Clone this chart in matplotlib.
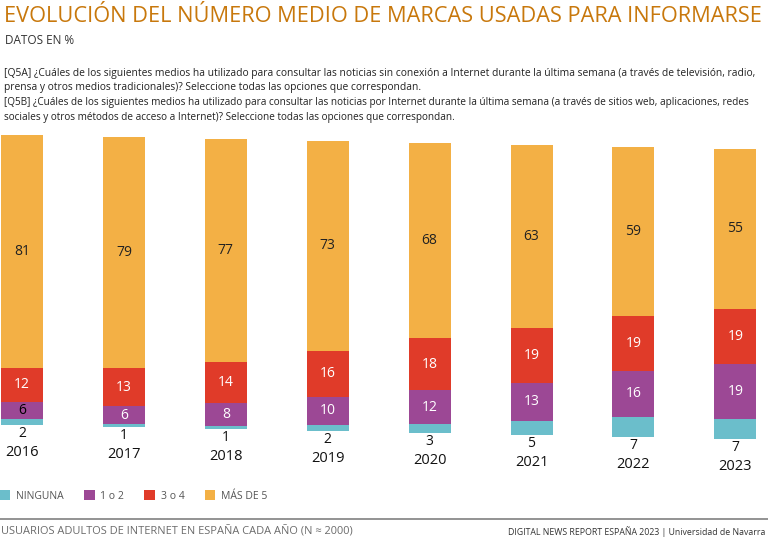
import matplotlib
matplotlib.use('Agg')
import matplotlib.pyplot as plt
from matplotlib import font_manager
import numpy as np

# %% datos
anios = ['2016', '2017', '2018', '2019', '2020', '2021', '2022', '2023']
ninguna = [2, 1, 1, 2, 3, 5, 7, 7]
uno_dos = [6, 6, 8, 10, 12, 13, 16, 19]
tres_cuatro = [12, 13, 14, 16, 18, 19, 19, 19]
mas_cinco = [81, 79, 77, 73, 68, 63, 59, 55]
etiquetas = ['NINGUNA', '1 o 2', '3 o 4', 'MÁS DE 5']

colores = ['#6bbecb', '#9c4895', '#e03b29', '#f3b045']
color_txt = [None,
             ['black'] + ['white'] * 7,
             ['white'] * 8,
             ['#222222'] * 8]

# %% fuente
disponibles = {f.name for f in font_manager.fontManager.ttflist}
fuente = 'DejaVu Sans'
for fam in ['DejaVu Sans Condensed', 'Liberation Sans Narrow', 'Open Sans']:
    if fam in disponibles:
        fuente = fam
        break
plt.rcParams['font.family'] = [fuente, 'DejaVu Sans']

W, H = 768, 548
fig = plt.figure(figsize=(W / 100, H / 100), dpi=100)

def fx(px):
    return px / W

def fy(py):
    return 1 - py / H

# ejes de las barras (en pixeles: y de 125 a 480)
esc = 2.9  # px por punto porcentual
ax = fig.add_axes([0, fy(480), 1, (480 - 125) / H])
ax.set_xlim(-22 / 101.9, (W - 22) / 101.9)
ax.set_ylim(-(480 - 425) / esc, (425 - 125) / esc)
ax.axis('off')

x = np.arange(len(anios))
ancho = 42 / 101.9
series = np.array([ninguna, uno_dos, tres_cuatro, mas_cinco], dtype=float)
total = series.sum(axis=0)
# barras normalizadas al 100 %; el original cae ligeramente hacia la derecha
caida = 2.0 / esc
base0 = -caida * x
base = base0.copy()
handles = []
for j in range(4):
    alto = series[j] / total * 100
    b = ax.bar(x, alto, ancho, bottom=base, color=colores[j], linewidth=0)
    handles.append(b)
    if j > 0:
        for i in range(len(x)):
            ax.text(x[i], base[i] + alto[i] / 2, str(int(series[j][i])),
                    ha='center', va='center', fontsize=10, color=color_txt[j][i])
    base = base + alto

for i in range(len(x)):
    ax.annotate(str(ninguna[i]), xy=(x[i], base0[i]), xytext=(0, -6),
                textcoords='offset points', ha='center', va='center',
                fontsize=10, color='#111111')
    ax.annotate(anios[i], xy=(x[i], base0[i]), xytext=(0, -20),
                textcoords='offset points', ha='center', va='center',
                fontsize=10.5, color='#111111')

# %% textos
titulo = fig.text(fx(4), fy(17), 'EVOLUCIÓN DEL NÚMERO MEDIO DE MARCAS USADAS PARA INFORMARSE',
                  fontsize=16, color='#c8780c', va='center', ha='left')
fig.text(fx(5), fy(41), 'DATOS EN %', fontsize=8.5, color='#333333', va='center')

q5a = ('[Q5A] ¿Cuáles de los siguientes medios ha utilizado para consultar las noticias sin conexión a Internet durante la última semana (a través de televisión, radio,\n'
       'prensa y otros medios tradicionales)? Seleccione todas las opciones que correspondan.')
q5b = ('[Q5B] ¿Cuáles de los siguientes medios ha utilizado para consultar las noticias por Internet durante la última semana (a través de sitios web, aplicaciones, redes\n'
       'sociales y otros métodos de acceso a Internet)? Seleccione todas las opciones que correspondan.')
t1 = fig.text(fx(4), fy(80.5), q5a, fontsize=7, color='#222222', va='center', linespacing=1.45)
t2 = fig.text(fx(4), fy(110), q5b, fontsize=7, color='#222222', va='center', linespacing=1.45)

fig.legend([h[0] for h in handles], etiquetas, loc='center left',
           bbox_to_anchor=(0, fy(496)), ncol=4, frameon=False, fontsize=7.5,
           labelcolor='#555555', handlelength=1.0, handleheight=1.0,
           handletextpad=0.55, columnspacing=1.95, borderpad=0, borderaxespad=0)

fig.add_artist(plt.Line2D([0, 1], [fy(519), fy(519)], color='#8a8a8a', lw=1.3,
                          transform=fig.transFigure))
pie1 = fig.text(fx(1), fy(532), 'USUARIOS ADULTOS DE INTERNET EN ESPAÑA CADA AÑO (N ≈ 2000)',
                fontsize=8, color='#6b6b6b', va='center')
pie2 = fig.text(fx(765), fy(532), 'DIGITAL NEWS REPORT ESPAÑA 2023 | Universidad de Navarra',
                fontsize=7.5, color='#333333', va='center', ha='right')

# ajustar anchos a los del original
fig.canvas.draw()
r = fig.canvas.get_renderer()
for t, w in [(titulo, 758), (t1, 754), (t2, 752), (pie1, 350), (pie2, 256)]:
    t.set_fontsize(t.get_fontsize() * w / t.get_window_extent(r).width)

fig.savefig('out.png', dpi=100)
